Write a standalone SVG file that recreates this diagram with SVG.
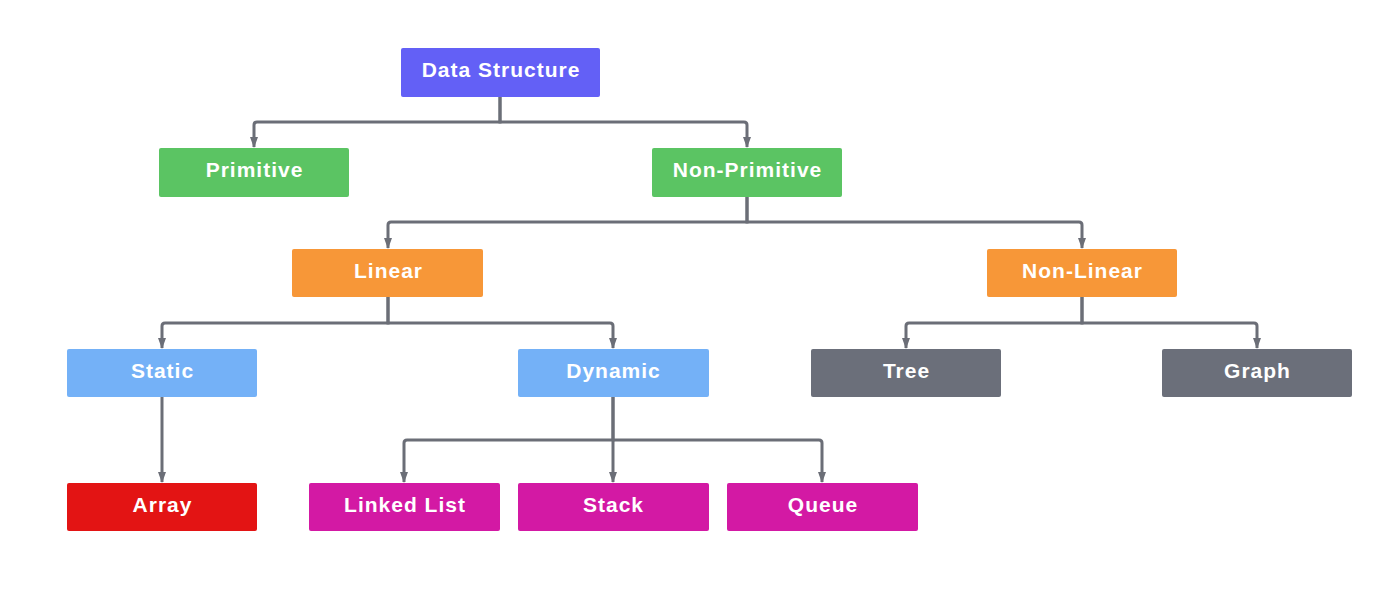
<svg xmlns="http://www.w3.org/2000/svg" width="1400" height="611" viewBox="0 0 1400 611">
<style>
.n{stroke:none}
.t{font-family:"Liberation Sans",Arial,sans-serif;font-weight:bold;font-size:21px;fill:#ffffff;text-anchor:middle;letter-spacing:1px}
.c{fill:none;stroke:#6b6e77;stroke-width:3;marker-end:url(#ah)}
</style>
<defs>
<marker id="ah" viewBox="0 0 11 8" refX="10" refY="4" markerWidth="11" markerHeight="8" markerUnits="userSpaceOnUse" orient="auto">
<path d="M0,0 L11,4 L0,8 z" fill="#6b6e77"/>
</marker>
</defs>
<rect width="1400" height="611" fill="#ffffff"/>
<g id="connectors">
<path class="c" d="M500,97 V122 H257 Q254,122 254,125 V147"/>
<path class="c" d="M500,97 V122 H744 Q747,122 747,125 V147"/>
<path class="c" d="M747,197 V222 H391 Q388,222 388,225 V248"/>
<path class="c" d="M747,197 V222 H1079 Q1082,222 1082,225 V248"/>
<path class="c" d="M388,297 V323 H165 Q162,323 162,326 V348"/>
<path class="c" d="M388,297 V323 H610 Q613,323 613,326 V348"/>
<path class="c" d="M1082,297 V323 H909 Q906,323 906,326 V348"/>
<path class="c" d="M1082,297 V323 H1254 Q1257,323 1257,326 V348"/>
<path class="c" d="M162,397 V482"/>
<path class="c" d="M613,397 V440 H407 Q404,440 404,443 V482"/>
<path class="c" d="M613,397 V482"/>
<path class="c" d="M613,440 H819 Q822,440 822,443 V482"/>
</g>
<g id="data-structure"><rect class="n" x="401" y="48" width="199" height="49" rx="2" fill="#6360f6"/><text class="t" x="501" y="76.5">Data Structure</text></g>
<g id="primitive"><rect class="n" x="159" y="148" width="190" height="49" rx="2" fill="#5bc463"/><text class="t" x="254.5" y="176.5">Primitive</text></g>
<g id="non-primitive"><rect class="n" x="652" y="148" width="190" height="49" rx="2" fill="#5bc463"/><text class="t" x="747.5" y="176.5">Non-Primitive</text></g>
<g id="linear"><rect class="n" x="292" y="249" width="191" height="48" rx="2" fill="#f79738"/><text class="t" x="388.5" y="277.5">Linear</text></g>
<g id="non-linear"><rect class="n" x="987" y="249" width="190" height="48" rx="2" fill="#f79738"/><text class="t" x="1082.5" y="277.5">Non-Linear</text></g>
<g id="static"><rect class="n" x="67" y="349" width="190" height="48" rx="2" fill="#74b1f7"/><text class="t" x="162.5" y="377.5">Static</text></g>
<g id="dynamic"><rect class="n" x="518" y="349" width="191" height="48" rx="2" fill="#74b1f7"/><text class="t" x="613.5" y="377.5">Dynamic</text></g>
<g id="tree"><rect class="n" x="811" y="349" width="190" height="48" rx="2" fill="#6b6f7a"/><text class="t" x="906.5" y="377.5">Tree</text></g>
<g id="graph"><rect class="n" x="1162" y="349" width="190" height="48" rx="2" fill="#6b6f7a"/><text class="t" x="1257.5" y="377.5">Graph</text></g>
<g id="array"><rect class="n" x="67" y="483" width="190" height="48" rx="2" fill="#e31414"/><text class="t" x="162.5" y="511.5">Array</text></g>
<g id="linked-list"><rect class="n" x="309" y="483" width="191" height="48" rx="2" fill="#d319a4"/><text class="t" x="405" y="511.5">Linked List</text></g>
<g id="stack"><rect class="n" x="518" y="483" width="191" height="48" rx="2" fill="#d319a4"/><text class="t" x="613.5" y="511.5">Stack</text></g>
<g id="queue"><rect class="n" x="727" y="483" width="191" height="48" rx="2" fill="#d319a4"/><text class="t" x="823" y="511.5">Queue</text></g>
</svg>
